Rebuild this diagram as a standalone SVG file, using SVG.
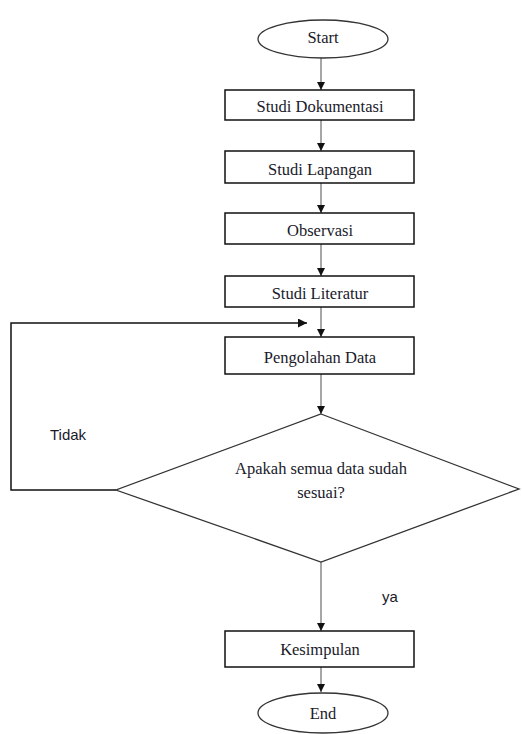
<svg xmlns="http://www.w3.org/2000/svg" width="522" height="734" viewBox="0 0 522 734">
<style>
.box{fill:#fff;stroke:#111;stroke-width:1.5}
.shape{fill:#fff;stroke:#333;stroke-width:1.3}
.t{font-family:"Liberation Serif","Times New Roman",serif;font-size:16.5px;fill:#1a1a2a;text-anchor:middle;dominant-baseline:central}
.s{font-family:"Liberation Sans",Arial,sans-serif;font-size:15px;fill:#1a1a2a}
.c{fill:none;stroke:#888;stroke-width:1.5}
.k{fill:none;stroke:#111;stroke-width:1.5}
</style>
<defs>
<marker id="ah" viewBox="0 0 10 10" refX="10" refY="5" markerWidth="8" markerHeight="8" markerUnits="userSpaceOnUse" orient="auto">
<path d="M0,0 L10,5 L0,10 z" fill="#111"/>
</marker>
<marker id="ah2" viewBox="0 0 10 10" refX="10" refY="5" markerWidth="9" markerHeight="9" markerUnits="userSpaceOnUse" orient="auto">
<path d="M0,0 L10,5 L0,10 z" fill="#111"/>
</marker>
</defs>
<g id="connectors">
<line class="c" x1="321" y1="58" x2="321" y2="90" marker-end="url(#ah)"/>
<line class="c" x1="321" y1="120" x2="321" y2="151" marker-end="url(#ah)"/>
<line class="c" x1="321" y1="183" x2="321" y2="213" marker-end="url(#ah)"/>
<line class="c" x1="321" y1="244" x2="321" y2="276" marker-end="url(#ah)"/>
<line class="c" x1="321" y1="307" x2="321" y2="337" marker-end="url(#ah)"/>
<line class="c" x1="321" y1="374" x2="321" y2="414" marker-end="url(#ah)"/>
<line class="c" x1="321" y1="562" x2="321" y2="631" marker-end="url(#ah)"/>
<line class="c" x1="321" y1="667" x2="321" y2="692" marker-end="url(#ah)"/>
<polyline class="k" points="116,490 11,490 11,323 307,323" marker-end="url(#ah2)"/>
<text class="s" x="50" y="440">Tidak</text>
<text class="s" x="382" y="602">ya</text>
</g>
<g id="start">
<ellipse class="shape" cx="323" cy="39" rx="65" ry="19"/>
<text class="t" x="323" y="37">Start</text>
</g>
<g id="studi-dokumentasi">
<rect class="box" x="225" y="90" width="189" height="30"/>
<text class="t" x="320" y="106">Studi Dokumentasi</text>
</g>
<g id="studi-lapangan">
<rect class="box" x="225" y="151" width="189" height="32"/>
<text class="t" x="320" y="169">Studi Lapangan</text>
</g>
<g id="observasi">
<rect class="box" x="225" y="213" width="189" height="31"/>
<text class="t" x="320" y="230">Observasi</text>
</g>
<g id="studi-literatur">
<rect class="box" x="225" y="276" width="189" height="31"/>
<text class="t" x="320" y="293">Studi Literatur</text>
</g>
<g id="pengolahan-data">
<rect class="box" x="225" y="337" width="189" height="37"/>
<text class="t" x="320" y="357">Pengolahan Data</text>
</g>
<g id="keputusan">
<polygon class="shape" points="321,414 519,489 321,562 116,490"/>
<text class="t" x="321" y="468">Apakah semua data sudah</text>
<text class="t" x="321" y="492">sesuai?</text>
</g>
<g id="kesimpulan">
<rect class="box" x="225" y="631" width="189" height="36"/>
<text class="t" x="320" y="649">Kesimpulan</text>
</g>
<g id="end">
<ellipse class="shape" cx="323" cy="713" rx="65" ry="20"/>
<text class="t" x="323" y="713">End</text>
</g>
</svg>
